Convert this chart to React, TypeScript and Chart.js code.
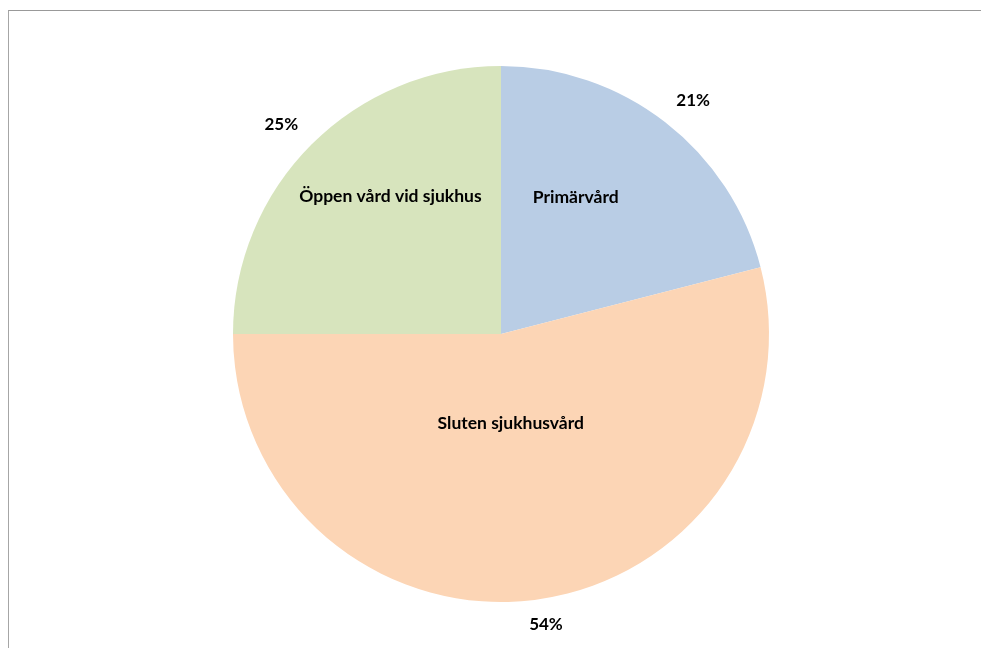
import React, { useEffect, useRef } from "react";
import { Chart, registerables } from "chart.js";

Chart.register(...registerables);

const categories = ["Primärvård", "Sluten sjukhusvård", "Öppen vård vid sjukhus"];
const shares = [21, 54, 25];
const sliceColors = ["#B9CDE5", "#FCD5B5", "#D7E4BD"];

// Where each category name sits inside its slice: fraction of the slice's sweep
// and fraction of the radius.
const nameAngleFrac = [0.38, 0.505, 0.57];
const nameRadiusFrac = [0.58, 0.335, 0.66];
// Percentage labels outside the rim: radial factor and angular nudge (degrees).
const pctRadiusFrac = [1.127, 1.097, 1.134];
const pctAngleNudge = [1.7, -1.6, -1.3];

const FONT = "Lato, 'Open Sans', sans-serif";

const sliceLabels = {
  id: "sliceLabels",
  afterDatasetsDraw(chart: any) {
    const { ctx } = chart;
    const meta = chart.getDatasetMeta(0);
    const data = chart.data.datasets[0].data as number[];
    const total = data.reduce((a, b) => a + b, 0);
    ctx.save();
    ctx.fillStyle = "#000";
    ctx.textAlign = "center";
    ctx.textBaseline = "middle";
    meta.data.forEach((arc: any, i: number) => {
      const { x, y, startAngle, endAngle, outerRadius } = arc.getProps(
        ["x", "y", "startAngle", "endAngle", "outerRadius"],
        true
      );
      // category name inside the slice
      const a1 = startAngle + (endAngle - startAngle) * nameAngleFrac[i];
      const r1 = outerRadius * nameRadiusFrac[i];
      ctx.font = `bold 17.5px ${FONT}`;
      ctx.fillText(chart.data.labels[i], x + Math.cos(a1) * r1, y + Math.sin(a1) * r1);
      // percentage outside the slice
      const mid = (startAngle + endAngle) / 2 + (pctAngleNudge[i] * Math.PI) / 180;
      const r2 = outerRadius * pctRadiusFrac[i];
      const pct = Math.round((data[i] / total) * 100) + "%";
      ctx.font = `bold 17px ${FONT}`;
      ctx.fillText(pct, x + Math.cos(mid) * r2, y + Math.sin(mid) * r2);
    });
    ctx.restore();
  },
};

export default function App() {
  const canvasRef = useRef<HTMLCanvasElement | null>(null);

  useEffect(() => {
    const canvas = canvasRef.current;
    if (!canvas) return;
    const chart = new Chart(canvas, {
      type: "pie",
      data: {
        labels: categories,
        datasets: [
          {
            data: shares,
            backgroundColor: sliceColors,
            borderWidth: 0,
          },
        ],
      },
      options: {
        animation: false,
        responsive: false,
        layout: { padding: { left: 233, right: 212, top: 66, bottom: 46 } },
        plugins: {
          legend: { display: false },
          tooltip: { enabled: false },
        },
      },
      plugins: [sliceLabels],
    });
    return () => chart.destroy();
  }, []);

  return (
    <div>
      <div
        style={{
          position: "absolute",
          left: 8,
          top: 10,
          width: 973,
          height: 638,
          borderLeft: "1px solid #a6a6a6",
          borderTop: "1px solid #999999",
          boxSizing: "border-box",
        }}
      />
      <canvas
        ref={canvasRef}
        width={981}
        height={648}
        style={{ position: "absolute", left: 0, top: 0, width: 981, height: 648 }}
      />
    </div>
  );
}
